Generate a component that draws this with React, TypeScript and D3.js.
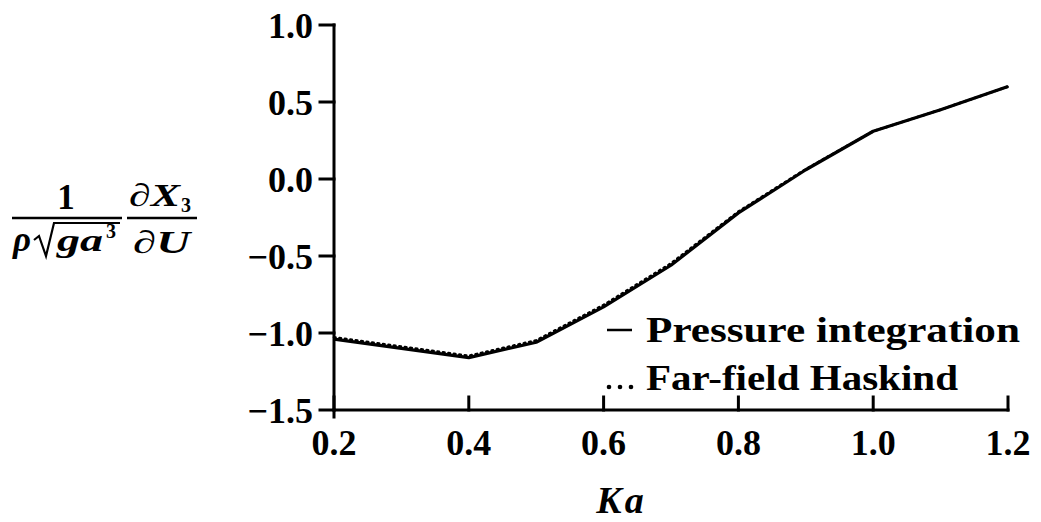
import React from "react";
import * as d3 from "d3";

// Ka values and the two curves
const ka = [0.2, 0.3, 0.4, 0.5, 0.6, 0.7, 0.8, 0.9, 1.0, 1.1, 1.2];
const pressureIntegration = [-1.04, -1.1, -1.16, -1.06, -0.83, -0.56, -0.22, 0.06, 0.31, 0.45, 0.6];
const farFieldHaskind = [-1.028, -1.088, -1.148, -1.048, -0.818, -0.548, -0.212, 0.064, 0.31, 0.45, 0.6];

const xTicks = [0.2, 0.4, 0.6, 0.8, 1.0, 1.2];
const yTicks = [1.0, 0.5, 0.0, -0.5, -1.0, -1.5];

const legendItems = ["Pressure integration", "Far-field Haskind"];

const W = 1041;
const H = 522;
const font = "'Liberation Serif', 'Times New Roman', serif";

const fmt = (v: number) => (v < 0 ? "\u2212" : "") + Math.abs(v).toFixed(1);

export default function App() {
  const x = d3.scaleLinear().domain([0.2, 1.2]).range([334, 1008]);
  const y = d3.scaleLinear().domain([-1.5, 1.0]).range([410, 25]);

  const line = d3
    .line<number>()
    .x((_, i) => x(ka[i]))
    .y((d) => y(d));

  const x0 = x(0.2);
  const y0 = y(-1.5);

  return (
    <div style={{ position: "absolute", left: 0, top: 0 }}>
      <svg width={W} height={H} style={{ display: "block", background: "#fff" }}>
        <g stroke="#000" strokeWidth={3} fill="none" strokeLinecap="square">
          {/* axes */}
          <line x1={x0} y1={y(1.0)} x2={x0} y2={y0 + 7} />
          <line x1={x0} y1={y0} x2={x(1.2)} y2={y0} />
          {yTicks.map((t) => (
            <line key={"yt" + t} x1={x0 - 14} x2={x0} y1={y(t)} y2={y(t)} />
          ))}
          {xTicks.map((t) => (
            <line key={"xt" + t} x1={x(t)} x2={x(t)} y1={y0} y2={y0 - 13} />
          ))}
        </g>

        {/* curves */}
        <path
          d={line(farFieldHaskind) || ""}
          fill="none"
          stroke="#000"
          strokeWidth={2.6}
          strokeDasharray="1.5,4"
          strokeLinecap="round"
        />
        <path
          d={line(pressureIntegration) || ""}
          fill="none"
          stroke="#000"
          strokeWidth={3.2}
          strokeLinejoin="round"
        />

        {/* tick labels */}
        <g fontFamily={font} fontWeight="bold" fontSize={36} fill="#000">
          {yTicks.map((t) => (
            <text key={"yl" + t} x={313} y={y(t)} dy="0.35em" textAnchor="end">
              {fmt(t)}
            </text>
          ))}
          {xTicks.map((t) => (
            <text key={"xl" + t} x={x(t)} y={455} textAnchor="middle">
              {fmt(t)}
            </text>
          ))}
        </g>

        {/* x axis title */}
        <text x={620} y={513} textAnchor="middle" fontFamily={font} fontWeight="bold" fontStyle="italic" fontSize={38}>
          K<tspan dx={3}>a</tspan>
        </text>

        {/* legend */}
        <g fontFamily={font} fontWeight="bold" fontSize={36} fill="#000">
          <line x1={607} x2={632} y1={330} y2={330} stroke="#000" strokeWidth={2.5} />
          <text x={646} y={342} textLength={374} lengthAdjust="spacingAndGlyphs">
            {legendItems[0]}
          </text>
          {[609, 620, 631].map((cx) => (
            <circle key={cx} cx={cx} cy={387} r={2.3} fill="#000" />
          ))}
          <text x={646} y={390} textLength={312} lengthAdjust="spacingAndGlyphs">
            {legendItems[1]}
          </text>
        </g>

        {/* y axis title: 1/(rho sqrt(g a^3)) dX3/dU */}
        <g fontFamily={font} fontWeight="bold" fill="#000" stroke="none">
          <text x={66} y={209} fontSize={35} textAnchor="middle">1</text>
          <line x1={12} x2={122} y1={218} y2={218} stroke="#000" strokeWidth={2.5} />
          <text x={13} y={251} fontSize={35} fontStyle="italic">{"\u03C1"}</text>
          <path d="M34,240 L39,236 L46,256 L54,223 L120,223" fill="none" stroke="#000" strokeWidth={2.2} />
          <text x={57} y={251} fontSize={32} fontStyle="italic" textLength={46} lengthAdjust="spacingAndGlyphs">
            ga
          </text>
          <text x={106} y={238} fontSize={20}>3</text>

          <text x={129} y={206} fontSize={32} fontStyle="italic" textLength={51} lengthAdjust="spacingAndGlyphs">
            {"\u2202"}X
          </text>
          <text x={181} y={212} fontSize={20}>3</text>
          <line x1={127} x2={197} y1={218} y2={218} stroke="#000" strokeWidth={2.5} />
          <text x={133} y={253} fontSize={32} fontStyle="italic" textLength={57} lengthAdjust="spacingAndGlyphs">
            {"\u2202"}U
          </text>
        </g>
      </svg>
    </div>
  );
}
